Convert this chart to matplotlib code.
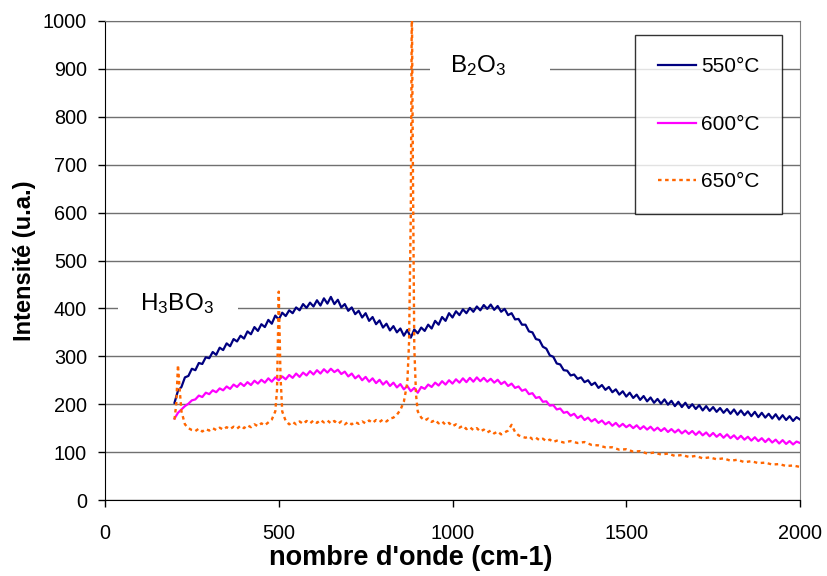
import numpy as np
import matplotlib
matplotlib.use("Agg")
import matplotlib.pyplot as plt
from matplotlib.patches import Rectangle

plt.rcParams['font.family'] = ['Liberation Sans', 'DejaVu Sans']
plt.rcParams['mathtext.fontset'] = 'custom'
plt.rcParams['mathtext.rm'] = 'Liberation Sans'
plt.rcParams['mathtext.default'] = 'regular'

# wavenumber grid shared by the 550 and 600 spectra (step 10 cm-1)
wavenumber = np.arange(200, 2001, 10)

intens_550 = [
    203, 228, 236, 256, 259, 274, 271, 286, 284, 298,
    296, 309, 303, 318, 313, 327, 321, 336, 331, 343,
    337, 352, 346, 361, 353, 367, 361, 376, 368, 385,
    377, 391, 384, 396, 390, 402, 396, 409, 401, 412,
    404, 417, 406, 421, 410, 424, 409, 418, 402, 409,
    395, 402, 388, 395, 381, 390, 374, 382, 367, 375,
    360, 368, 354, 363, 350, 358, 343, 355, 339, 356,
    348, 360, 353, 366, 358, 374, 366, 382, 374, 390,
    381, 394, 386, 398, 390, 401, 393, 404, 396, 407,
    399, 408, 397, 405, 393, 399, 386, 390, 377, 378,
    366, 366, 352, 350, 336, 334, 320, 316, 302, 299,
    285, 283, 271, 270, 260, 262, 253, 256, 246, 250,
    240, 245, 234, 240, 230, 236, 225, 231, 220, 227,
    216, 224, 213, 220, 209, 217, 206, 214, 203, 211,
    201, 210, 199, 207, 196, 205, 194, 203, 192, 200,
    190, 198, 187, 196, 186, 194, 184, 192, 182, 190,
    180, 189, 178, 187, 177, 185, 175, 184, 173, 182,
    172, 180, 170, 179, 168, 177, 167, 175, 165, 173,
    168,
]

intens_600 = [
    170, 182, 189, 196, 201, 208, 210, 218, 215, 224,
    221, 229, 225, 233, 229, 237, 232, 241, 236, 244,
    238, 246, 240, 249, 243, 251, 245, 254, 247, 256,
    250, 258, 252, 261, 255, 264, 257, 266, 260, 269,
    262, 271, 264, 273, 266, 274, 267, 272, 263, 268,
    258, 264, 254, 260, 250, 257, 247, 254, 244, 251,
    241, 248, 238, 245, 235, 242, 231, 238, 227, 234,
    224, 236, 232, 241, 236, 245, 239, 248, 241, 250,
    243, 252, 245, 254, 246, 255, 247, 256, 248, 255,
    247, 253, 245, 251, 242, 247, 238, 243, 234, 237,
    228, 231, 221, 223, 213, 215, 205, 206, 197, 198,
    189, 191, 182, 184, 176, 180, 171, 176, 167, 172,
    164, 169, 161, 166, 158, 163, 155, 161, 153, 159,
    152, 157, 150, 156, 148, 154, 147, 153, 145, 151,
    144, 150, 142, 148, 141, 147, 139, 145, 138, 144,
    136, 143, 135, 141, 133, 140, 132, 138, 130, 137,
    129, 135, 127, 134, 126, 132, 124, 131, 123, 129,
    121, 128, 120, 126, 118, 125, 117, 123, 116, 122,
    119,
]

# 650 spectrum has its own grid (denser around the sharp peaks)
wavenumber_650 = [
    200, 205, 210, 215, 220, 230, 240, 250, 260, 270,
    280, 290, 300, 310, 320, 330, 340, 350, 360, 370,
    380, 390, 400, 410, 420, 430, 440, 450, 460, 470,
    480, 490, 495, 500, 505, 510, 520, 530, 540, 550,
    560, 570, 580, 590, 600, 610, 620, 630, 640, 650,
    660, 670, 680, 690, 700, 710, 720, 730, 740, 750,
    760, 770, 780, 790, 800, 810, 820, 830, 840, 850,
    860, 870, 875, 880, 883, 886, 890, 895, 900, 910,
    920, 930, 940, 950, 960, 970, 980, 990, 1000, 1010,
    1020, 1030, 1040, 1050, 1060, 1070, 1080, 1090, 1100, 1110,
    1120, 1130, 1140, 1150, 1160, 1170, 1180, 1190, 1200, 1210,
    1220, 1230, 1240, 1250, 1260, 1270, 1280, 1290, 1300, 1320,
    1340, 1360, 1380, 1400, 1420, 1440, 1460, 1480, 1500, 1520,
    1540, 1560, 1580, 1600, 1620, 1640, 1660, 1680, 1700, 1720,
    1740, 1760, 1780, 1800, 1820, 1840, 1860, 1880, 1900, 1920,
    1940, 1960, 1980, 2000,
]
intens_650 = [
    168, 200, 282, 230, 185, 158, 150, 146, 144, 149,
    143, 148, 145, 150, 146, 151, 147, 152, 148, 153,
    149, 155, 150, 156, 152, 158, 154, 160, 156, 162,
    168, 185, 230, 435, 260, 185, 165, 158, 163, 158,
    164, 159, 165, 160, 166, 161, 167, 162, 166, 160,
    165, 159, 164, 158, 163, 158, 163, 159, 164, 160,
    166, 161, 167, 163, 168, 164, 170, 172, 178, 188,
    205, 245, 330, 600, 1050, 700, 320, 220, 185, 172,
    166, 170, 163, 167, 160, 164, 157, 161, 154, 158,
    151, 155, 148, 152, 146, 150, 143, 147, 141, 145,
    139, 143, 137, 141, 145, 157, 142, 135, 132, 130,
    133, 127, 130, 125, 128, 123, 126, 121, 124, 120,
    123, 119, 121, 115, 114, 110, 110, 105, 106, 101,
    102, 97, 99, 95, 97, 92, 94, 90, 92, 87,
    89, 85, 87, 82, 84, 79, 81, 77, 78, 74,
    75, 71, 72, 69,
]

x_ticks = [0, 500, 1000, 1500, 2000]
y_ticks = list(range(0, 1001, 100))

fig = plt.figure(figsize=(8.28, 5.76), dpi=100)
ax = fig.add_axes([105 / 828, 1 - 500 / 576, 695 / 828, 479 / 576])

ax.plot(wavenumber, intens_550, color='#000080', lw=1.6, label='550°C', zorder=4)
ax.plot(wavenumber, intens_600, color='#FF00FF', lw=1.6, label='600°C', zorder=4)
ax.plot(wavenumber_650, intens_650, color='#FF6600', lw=1.7, ls=(0, (1.5, 1.5)),
        label='650°C', zorder=4)

ax.set_xlim(0, 2000)
ax.set_ylim(0, 1000)
ax.set_xticks(x_ticks)
ax.set_yticks(y_ticks)
ax.tick_params(axis='both', direction='out', length=5, width=1, labelsize=14.3, color='black')
ax.tick_params(axis='x', pad=12)
ax.tick_params(axis='y', pad=8)
ax.yaxis.grid(True, color='#707070', lw=1.0, zorder=0)
ax.set_axisbelow(True)

ax.spines['left'].set_color('black')
ax.spines['bottom'].set_color('black')
ax.spines['right'].set_color('#808080')
ax.spines['top'].set_color('#707070')

ax.set_xlabel("nombre d'onde (cm-1)", fontsize=19.5, fontweight='bold')
ax.set_ylabel("Intensité (u.a.)", fontsize=17, fontweight='bold')
ax.xaxis.set_label_coords((411 - 105) / 695, -0.093)
ax.yaxis.set_label_coords(-0.100, 0.5)

# white gaps in the grid lines behind the two labels
ax.add_patch(Rectangle((37, 385), 346, 45, facecolor='white', edgecolor='none', zorder=2))
ax.add_patch(Rectangle((935, 880), 345, 45, facecolor='white', edgecolor='none', zorder=2))
ax.text(207, 410, r'H$_3$BO$_3$', fontsize=17.5, ha='center', va='center', zorder=3)
ax.text(1073, 908, r'B$_2$O$_3$', fontsize=17.5, ha='center', va='center', zorder=3)

leg = ax.legend(loc='upper right', bbox_to_anchor=(0.974, 0.971), borderaxespad=0,
                fontsize=15, frameon=True, fancybox=False, edgecolor='black',
                handlelength=1.83, labelspacing=1.85, borderpad=1.08, handletextpad=0.25)
leg.get_frame().set_linewidth(1.0)
leg.set_zorder(5)

fig.savefig('out.png', dpi=100)
